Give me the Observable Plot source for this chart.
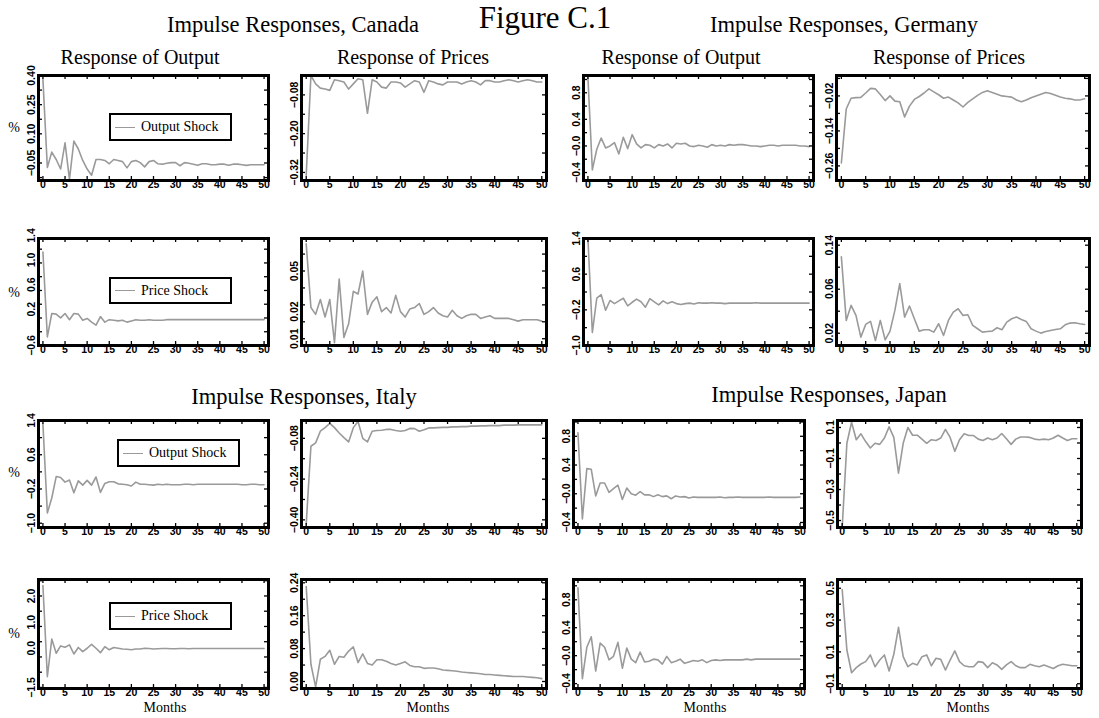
<!DOCTYPE html>
<html><head><meta charset="utf-8">
<script src="https://cdn.jsdelivr.net/npm/d3@7"></script>
<script src="https://cdn.jsdelivr.net/npm/@observablehq/plot@0.6"></script>
<style>
body{margin:0;background:#fff;}
#page{position:relative;width:1099px;height:718px;overflow:hidden;background:#fff;font-family:"Liberation Serif","Times New Roman",serif;}
.t{position:absolute;white-space:nowrap;color:#000;line-height:1;font-family:"Liberation Serif","Times New Roman",serif;}
.legend{position:absolute;border:2px solid #000;background:#fff;box-sizing:border-box;font-family:"Liberation Serif",serif;font-size:14px;display:flex;align-items:center;white-space:nowrap;}
.legend .ln{display:inline-block;width:20px;height:0;border-top:1.5px solid #9a9a9a;margin-left:4px;margin-right:6px;}
</style></head>
<body><div id="page"></div>
<script>
// ---------- data ----------
const months = [0,1,2,3,4,5,6,7,8,9,10,11,12,13,14,15,16,17,18,19,20,21,22,23,24,25,26,27,28,29,30,31,32,33,34,35,36,37,38,39,40,41,42,43,44,45,46,47,48,49,50];
const xTicks = [0,5,10,15,20,25,30,35,40,45,50];

// Canada, output shock
const canadaOutputOS = [0.38,-0.073,0.006,-0.032,-0.081,0.054,-0.135,0.063,0.022,-0.037,-0.081,-0.113,-0.032,-0.032,-0.037,-0.054,-0.032,-0.037,-0.043,-0.075,-0.043,-0.037,-0.048,-0.070,-0.043,-0.037,-0.054,-0.056,-0.051,-0.048,-0.048,-0.064,-0.048,-0.051,-0.056,-0.062,-0.054,-0.054,-0.059,-0.059,-0.056,-0.056,-0.062,-0.056,-0.056,-0.059,-0.062,-0.059,-0.059,-0.059,-0.059];
const canadaPricesOS = [-0.329,-0.020,-0.046,-0.059,-0.062,-0.066,-0.033,-0.036,-0.040,-0.062,-0.046,-0.030,-0.033,-0.137,-0.033,-0.040,-0.056,-0.059,-0.040,-0.040,-0.043,-0.056,-0.046,-0.036,-0.040,-0.072,-0.036,-0.040,-0.046,-0.049,-0.040,-0.040,-0.040,-0.046,-0.040,-0.036,-0.040,-0.049,-0.036,-0.036,-0.040,-0.040,-0.036,-0.033,-0.036,-0.040,-0.036,-0.033,-0.036,-0.040,-0.040];
// Germany, output shock
const germanyOutputOS = [1.03,-0.36,-0.05,0.12,-0.03,0.0,0.05,-0.12,0.13,-0.04,0.17,0.03,-0.03,0.02,0.01,-0.03,0.02,0.0,0.03,-0.03,0.04,0.03,0.04,0.0,-0.01,0.01,0.0,-0.02,0.02,0.0,0.01,0.0,0.02,0.01,0.02,0.02,0.01,0.0,0.0,-0.01,0.0,0.01,0.01,0.0,0.01,0.01,0.01,0.01,0.0,0.0,-0.01];
const germanyPricesOS = [-0.25,-0.065,-0.028,-0.026,-0.025,-0.01,0.006,0.004,-0.015,-0.036,-0.02,-0.038,-0.04,-0.092,-0.055,-0.032,-0.022,-0.01,0.004,-0.006,-0.016,-0.028,-0.024,-0.034,-0.044,-0.058,-0.042,-0.03,-0.018,-0.008,-0.002,-0.008,-0.014,-0.02,-0.022,-0.024,-0.034,-0.04,-0.034,-0.026,-0.02,-0.014,-0.008,-0.012,-0.018,-0.024,-0.028,-0.03,-0.034,-0.034,-0.03];
// Canada, price shock
const canadaOutputPS = [1.13,-0.25,0.13,0.12,0.06,0.13,0.03,0.13,0.12,0.02,0.05,-0.01,-0.06,0.08,-0.01,0.03,0.02,0.01,0.02,-0.01,0.01,0.03,0.02,0.02,0.03,0.02,0.02,0.02,0.03,0.03,0.03,0.03,0.03,0.03,0.03,0.03,0.03,0.03,0.03,0.03,0.03,0.03,0.03,0.03,0.03,0.03,0.03,0.03,0.03,0.03,0.03];
const canadaPricesPS = [0.070,0.023,0.018,0.029,0.016,0.029,-0.003,0.044,0.001,0.011,0.035,0.033,0.050,0.018,0.027,0.031,0.020,0.023,0.019,0.032,0.020,0.016,0.022,0.023,0.026,0.018,0.020,0.023,0.019,0.017,0.016,0.021,0.017,0.015,0.017,0.018,0.018,0.015,0.016,0.017,0.015,0.015,0.015,0.015,0.014,0.013,0.014,0.014,0.014,0.014,0.013];
// Germany, price shock
const germanyOutputPS = [1.4,-0.71,0.06,0.14,-0.21,0.01,-0.06,0.0,0.06,-0.11,-0.03,0.04,-0.02,-0.14,0.05,-0.02,-0.09,0.0,-0.06,-0.02,-0.06,-0.08,-0.06,-0.05,-0.07,-0.04,-0.05,-0.05,-0.04,-0.05,-0.05,-0.06,-0.05,-0.05,-0.05,-0.05,-0.05,-0.05,-0.04,-0.05,-0.05,-0.05,-0.05,-0.05,-0.05,-0.05,-0.05,-0.05,-0.05,-0.05,-0.05];
const germanyPricesPS = [0.0885,0.0315,0.045,0.036,0.0165,0.0279,0.0306,0.0135,0.0315,0.0141,0.0219,0.0405,0.0645,0.0345,0.0444,0.033,0.0219,0.0231,0.0231,0.021,0.0285,0.018,0.0315,0.039,0.042,0.036,0.0366,0.027,0.024,0.021,0.0216,0.0219,0.0249,0.0231,0.030,0.033,0.0345,0.0324,0.0306,0.024,0.0219,0.0201,0.0216,0.0225,0.0234,0.024,0.0276,0.0291,0.0294,0.0285,0.0279];
// Italy, output shock
const italyOutputOS = [1.32,-0.76,-0.41,0.09,0.07,-0.04,0.01,-0.29,-0.01,-0.11,0.0,-0.11,0.08,-0.28,-0.07,-0.03,-0.03,-0.08,-0.09,-0.10,-0.13,-0.04,-0.09,-0.09,-0.10,-0.11,-0.09,-0.10,-0.09,-0.10,-0.10,-0.10,-0.09,-0.09,-0.10,-0.09,-0.09,-0.09,-0.09,-0.09,-0.09,-0.09,-0.09,-0.09,-0.09,-0.10,-0.10,-0.09,-0.09,-0.10,-0.10];
const italyPricesOS = [-0.416,-0.111,-0.098,-0.052,-0.038,-0.021,-0.038,-0.059,-0.077,-0.094,-0.038,-0.014,-0.080,-0.094,-0.052,-0.049,-0.048,-0.045,-0.045,-0.049,-0.052,-0.049,-0.041,-0.042,-0.052,-0.046,-0.039,-0.039,-0.038,-0.037,-0.037,-0.035,-0.035,-0.034,-0.034,-0.032,-0.032,-0.031,-0.031,-0.030,-0.030,-0.030,-0.028,-0.028,-0.028,-0.027,-0.027,-0.027,-0.027,-0.027,-0.027];
// Japan, output shock
const japanOutputOS = [0.85,-0.35,0.35,0.34,-0.03,0.15,0.15,0.02,0.07,0.12,-0.08,0.08,0.0,-0.02,0.03,-0.015,-0.015,-0.04,-0.015,-0.04,-0.03,-0.07,-0.03,-0.045,-0.04,-0.06,-0.045,-0.05,-0.05,-0.05,-0.05,-0.05,-0.045,-0.055,-0.05,-0.05,-0.045,-0.05,-0.05,-0.05,-0.05,-0.05,-0.05,-0.045,-0.05,-0.05,-0.05,-0.05,-0.05,-0.05,-0.045];
const japanPricesOS = [-0.545,-0.002,0.134,0.021,0.059,0.009,-0.032,-0.002,-0.009,0.032,0.104,0.036,-0.194,-0.002,0.100,0.050,0.050,0.025,-0.002,0.021,0.016,0.032,0.088,0.036,-0.054,0.021,0.059,0.048,0.048,0.025,0.016,0.032,0.021,0.032,0.061,0.027,-0.009,0.025,0.039,0.039,0.036,0.025,0.021,0.025,0.021,0.032,0.050,0.032,0.016,0.027,0.027];
// Italy, price shock
const italyOutputPS = [2.40,-1.09,0.35,-0.19,0.09,0.04,0.13,-0.22,0.03,-0.13,0.0,0.15,0.0,-0.17,0.06,-0.06,0.03,0.0,-0.03,-0.04,-0.06,-0.03,-0.03,0.0,-0.01,-0.03,-0.02,-0.01,-0.01,-0.02,-0.02,-0.01,-0.01,-0.02,-0.01,-0.01,-0.01,-0.01,-0.01,-0.01,-0.01,-0.01,-0.01,-0.01,-0.01,-0.01,-0.01,-0.01,-0.01,-0.01,-0.01];
const italyPricesPS = [0.231,0.042,-0.013,0.054,0.061,0.076,0.042,0.061,0.059,0.074,0.084,0.046,0.067,0.044,0.040,0.053,0.053,0.049,0.044,0.040,0.044,0.048,0.039,0.036,0.036,0.032,0.033,0.033,0.031,0.028,0.027,0.026,0.025,0.023,0.022,0.021,0.020,0.019,0.017,0.017,0.016,0.015,0.014,0.013,0.012,0.012,0.012,0.011,0.010,0.009,0.007];
// Japan, price shock
const japanOutputPS = [0.97,-0.33,0.12,0.27,-0.22,0.18,0.12,-0.06,-0.01,0.19,-0.18,0.11,-0.05,-0.10,0.05,-0.09,-0.08,-0.05,-0.06,-0.12,-0.01,-0.10,-0.08,-0.05,-0.11,-0.09,-0.07,-0.08,-0.06,-0.10,-0.07,-0.06,-0.07,-0.06,-0.06,-0.06,-0.06,-0.06,-0.05,-0.06,-0.05,-0.05,-0.05,-0.05,-0.05,-0.05,-0.05,-0.05,-0.05,-0.05,-0.05];
const japanPricesPS = [0.492,0.112,-0.031,0.001,0.024,0.039,0.081,0.007,0.049,0.081,-0.020,0.085,0.254,0.070,0.007,0.028,0.018,0.070,0.081,0.013,0.060,0.053,-0.014,0.049,0.106,0.039,0.013,0.007,0.007,0.039,0.034,0.001,0.032,0.018,-0.010,0.018,0.039,0.013,0.001,0.001,0.022,0.013,0.007,0.018,0.007,-0.004,0.013,0.022,0.018,0.013,0.013];

// y domains, tick values and tick labels (as printed)
const yDomains = {
  canadaOutputOS:[-0.14,0.40], canadaPricesOS:[-0.345,-0.02], germanyOutputOS:[-0.52,1.06], germanyPricesOS:[-0.31,0.05],
  canadaOutputPS:[-0.39,1.35], canadaPricesPS:[-0.005,0.074], germanyOutputPS:[-1.0,1.4], germanyPricesPS:[0.009,0.105],
  italyOutputOS:[-1.1,1.4], italyPricesOS:[-0.43,-0.01], japanOutputOS:[-0.47,1.02], japanPricesOS:[-0.545,0.145],
  italyOutputPS:[-1.54,2.63], italyPricesPS:[-0.017,0.248], japanOutputPS:[-0.47,1.09], japanPricesPS:[-0.13,0.555]
};
const yTickValues = {
  canadaOutputOS:[0.40,0.25,0.10,-0.05], canadaPricesOS:[-0.08,-0.20,-0.32], germanyOutputOS:[0.8,0.4,0.0,-0.4], germanyPricesOS:[-0.02,-0.14,-0.26],
  canadaOutputPS:[1.4,1.0,0.6,0.2,-0.39], canadaPricesPS:[0.05,0.02,0.0], germanyOutputPS:[1.4,0.6,-0.2,-1.0], germanyPricesPS:[0.099,0.06,0.02],
  italyOutputOS:[1.4,0.6,-0.2,-1.0], italyPricesOS:[-0.08,-0.24,-0.40], japanOutputOS:[0.8,0.4,0.0,-0.4], japanPricesOS:[0.1,-0.1,-0.3,-0.5],
  italyOutputPS:[2.0,1.0,0.0,-1.5], italyPricesPS:[0.24,0.16,0.08,0.0], japanOutputPS:[0.8,0.4,0.0,-0.4], japanPricesPS:[0.5,0.3,0.1,-0.1]
};
const yTickLabels = {
  canadaOutputOS:["0.40","0.25","0.10","−0.05"], canadaPricesOS:["−0.08","−0.20","−0.32"], germanyOutputOS:["0.8","0.4","−0.0","−0.4"], germanyPricesOS:["−0.02","−0.14","−0.26"],
  canadaOutputPS:["1.4","1.0","0.6","0.2","−0.6"], canadaPricesPS:["0.05","0.02","0.01"], germanyOutputPS:["1.4","0.6","−0.2","−1.0"], germanyPricesPS:["0.14","0.06","0.02"],
  italyOutputOS:["1.4","0.6","−0.2","−1.0"], italyPricesOS:["−0.08","−0.24","−0.40"], japanOutputOS:["0.8","0.4","−0.0","−0.4"], japanPricesOS:["0.1","−0.1","−0.3","−0.5"],
  italyOutputPS:["2.0","1.0","0.0","−1.5"], italyPricesPS:["0.24","0.16","0.08","0.00"], japanOutputPS:["0.8","0.4","−0.0","−0.4"], japanPricesPS:["0.5","0.3","0.1","−0.1"]
};
const series = {canadaOutputOS, canadaPricesOS, germanyOutputOS, germanyPricesOS, canadaOutputPS, canadaPricesPS, germanyOutputPS, germanyPricesPS,
  italyOutputOS, italyPricesOS, japanOutputOS, japanPricesOS, italyOutputPS, italyPricesPS, japanOutputPS, japanPricesPS};

const countryTitles = ["Impulse Responses, Canada","Impulse Responses, Germany","Impulse Responses, Italy","Impulse Responses, Japan"];
const columnTitles = ["Response of Output","Response of Prices","Response of Output","Response of Prices"];
const legendLabels = ["Output Shock","Price Shock","Output Shock","Price Shock"];

// ---------- layout (pixel frames: left, top, right, bottom) ----------
const rows = [[75,180],[238,345],[420,527],[579,688]];
const colsTop = [[38,268],[301,546],[583,813],[836,1089]];
const colsBottom = [[38,268],[301,546],[573,804],[837,1081]];
const grid = [
  ["canadaOutputOS","canadaPricesOS","germanyOutputOS","germanyPricesOS"],
  ["canadaOutputPS","canadaPricesPS","germanyOutputPS","germanyPricesPS"],
  ["italyOutputOS","italyPricesOS","japanOutputOS","japanPricesOS"],
  ["italyOutputPS","italyPricesPS","japanOutputPS","japanPricesPS"]
];

const page = document.getElementById("page");
const tickFont = "'Liberation Sans', Arial, sans-serif";

function drawPanel(key, fr) {
  const [x0, y0, x1, y1] = fr;
  const fw = x1 - x0, fh = y1 - y0;
  const mL = 30, mR = 12, mT = 14, mB = 20;
  const dom = yDomains[key];
  const major = yTickValues[key];
  const labs = yTickLabels[key];
  const sorted = [...major].sort((a, b) => a - b);
  const step = sorted.length > 1 ? (sorted[sorted.length - 1] - sorted[0]) / (sorted.length - 1) : 1;
  const minor = [];
  for (let v = sorted[0] - 2 * step; v <= dom[1] + 1e-9; v += step / 2) {
    if (v >= dom[0] + 1e-9 && v <= dom[1] - 1e-9) minor.push(v);
  }
  const data = series[key].map((v, i) => ({m: months[i], v}));
  const chart = Plot.plot({
    width: fw + mL + mR, height: fh + mT + mB,
    marginLeft: mL, marginRight: mR, marginTop: mT, marginBottom: mB,
    x: {domain: [-1, 51], axis: null},
    y: {domain: dom, axis: null},
    style: {background: "transparent", overflow: "visible", maxWidth: "none"},
    marks: [
      Plot.line(data, {x: "m", y: "v", stroke: "#9a9a9a", strokeWidth: 1.6, clip: "frame"}),
      Plot.tickX(xTicks, {x: d => d, insetBottom: fh - 4, stroke: "#000", strokeWidth: 1.3}),
      Plot.tickX(xTicks, {x: d => d, insetTop: fh - 4, stroke: "#000", strokeWidth: 1.3}),
      Plot.tickY(minor, {y: d => d, insetRight: fw - 4, stroke: "#000", strokeWidth: 1.3}),
      Plot.tickY(minor, {y: d => d, insetLeft: fw - 4, stroke: "#000", strokeWidth: 1.3}),
      Plot.frame({stroke: "#000", strokeWidth: 3}),
      Plot.text(xTicks, {x: d => d, frameAnchor: "bottom", dy: 7, text: d => String(d),
        fontSize: 10.5, fontWeight: "bold", fontFamily: tickFont, fill: "#000"}),
      Plot.text(major, {y: d => d, frameAnchor: "left", dx: -7, rotate: -90, text: (d, i) => labs[i],
        textAnchor: "middle", fontSize: 10.5, fontWeight: "bold", fontFamily: tickFont, fill: "#000"})
    ]
  });
  chart.style.position = "absolute";
  chart.style.left = (x0 - mL) + "px";
  chart.style.top = (y0 - mT) + "px";
  page.appendChild(chart);
}

grid.forEach((row, r) => {
  row.forEach((key, c) => {
    const cols = r < 2 ? colsTop : colsBottom;
    drawPanel(key, [cols[c][0], rows[r][0], cols[c][1], rows[r][1]]);
  });
});

function addText(str, cx, baseline, size, lh = 1) {
  const d = document.createElement("div");
  d.className = "t";
  d.textContent = str;
  d.style.fontSize = size + "px";
  d.style.lineHeight = String(lh);
  d.style.left = cx + "px";
  // baseline offset from box top for Liberation Serif (ascent .891, descent .216)
  d.style.top = (baseline - ((lh - 1.107) / 2 + 0.891) * size) + "px";
  d.style.transform = "translateX(-50%)";
  page.appendChild(d);
}
function addLegend(label, x0, y0, x1, y1) {
  const b = document.createElement("div");
  b.className = "legend";
  b.style.left = x0 + "px"; b.style.top = y0 + "px";
  b.style.width = (x1 - x0) + "px"; b.style.height = (y1 - y0) + "px";
  const ln = document.createElement("span"); ln.className = "ln";
  const tx = document.createElement("span"); tx.textContent = label;
  b.appendChild(ln); b.appendChild(tx);
  page.appendChild(b);
}

addText("Figure C.1", 545, 28, 31, 1.15);
addText(countryTitles[0], 293, 33, 22.5);
addText(countryTitles[1], 844, 33, 22.5);
addText(countryTitles[2], 304, 405, 22.5);
addText(countryTitles[3], 829, 403, 22.5);
addText(columnTitles[0], 140, 64, 20);
addText(columnTitles[1], 413, 64, 20);
addText(columnTitles[2], 681, 64, 20);
addText(columnTitles[3], 949, 64, 20);
[128, 293, 473, 634].forEach(y => addText("%", 14, y + 5, 14));
[165, 428, 705, 968].forEach(x => addText("Months", x, 713, 14));
addLegend(legendLabels[0], 109, 113, 232, 141);
addLegend(legendLabels[1], 109, 277, 232, 304);
addLegend(legendLabels[2], 117, 439, 240, 467);
addLegend(legendLabels[3], 109, 602, 232, 630);
</script>
</body></html>
